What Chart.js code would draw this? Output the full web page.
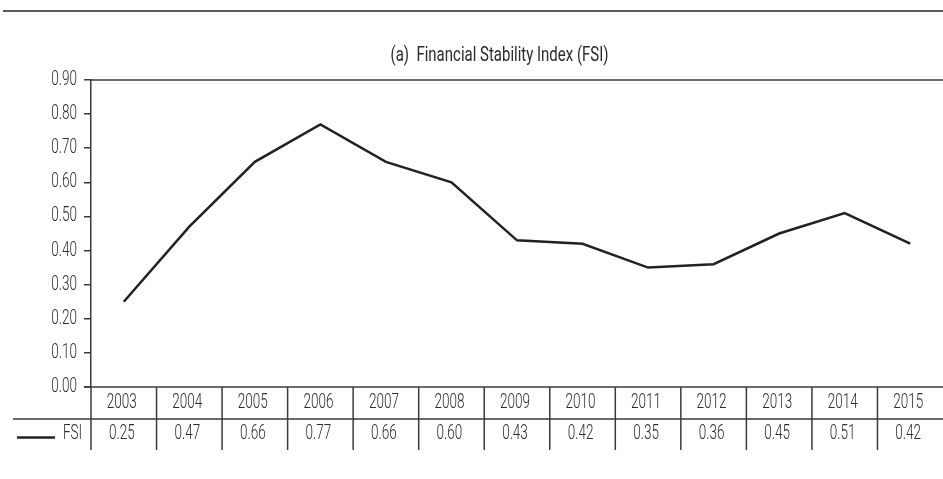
<!DOCTYPE html>
<html>
<head>
<meta charset="utf-8">
<script src="https://cdn.jsdelivr.net/npm/chart.js@4.4.1/dist/chart.umd.min.js"></script>
<style>
html,body{margin:0;padding:0;background:#fff;}
#wrap{width:943px;height:479px;}
</style>
</head>
<body>
<div id="wrap"><canvas id="c" width="943" height="479"></canvas></div>
<script>
const categories = ["2003","2004","2005","2006","2007","2008","2009","2010","2011","2012","2013","2014","2015"];
const fsiValues = [0.25,0.47,0.66,0.77,0.66,0.60,0.43,0.42,0.35,0.36,0.45,0.51,0.42];
const seriesName = "FSI";
const titleText = "(a)  Financial Stability Index (FSI)";
const yMin = 0, yMax = 0.9, yStep = 0.1;

const FONT = "Roboto,'Noto Sans',sans-serif";
const LABEL_FONT = "300 20px " + FONT;
const TITLE_FONT = "400 19.5px " + FONT;
const TEXT = "#2b2b2b";
const LINE = "#3a3a3a";

function drawScaledText(ctx, text, x, y, sx, align) {
  ctx.save();
  ctx.translate(x, y);
  ctx.scale(sx, 1);
  ctx.textAlign = align;
  ctx.fillText(text, 0, 0);
  ctx.restore();
}

const tablePlugin = {
  id: 'tablePlugin',
  afterDraw(chart) {
    const ctx = chart.ctx;
    const xs = chart.scales.x;
    const ys = chart.scales.y;
    const ca = chart.chartArea;
    const n = categories.length;
    const w = (ca.right - ca.left) / n;
    const row1Top = ca.bottom, row1Bot = ca.bottom + 32, row2Bot = ca.bottom + 63;
    ctx.save();
    ctx.font = LABEL_FONT;
    const sxLabel = 30 / ctx.measureText("2003").width;
    ctx.font = TITLE_FONT;
    const sxTitle = 218 / ctx.measureText(titleText).width;

    // top rule
    ctx.strokeStyle = "#5a5a5a"; ctx.lineWidth = 2;
    ctx.beginPath(); ctx.moveTo(3, 11); ctx.lineTo(chart.width, 11); ctx.stroke();
    // title
    ctx.fillStyle = TEXT; ctx.font = TITLE_FONT; ctx.textBaseline = "alphabetic";
    drawScaledText(ctx, titleText, 499.5, 61, sxTitle, "center");
    // plot top border
    ctx.strokeStyle = LINE; ctx.lineWidth = 1.5;
    ctx.beginPath(); ctx.moveTo(ca.left, ca.top); ctx.lineTo(ca.right, ca.top); ctx.stroke();
    // bottom axis line
    ctx.beginPath(); ctx.moveTo(ca.left - 7, ca.bottom); ctx.lineTo(ca.right, ca.bottom); ctx.stroke();
    // table horizontal line
    ctx.beginPath(); ctx.moveTo(13, row1Bot); ctx.lineTo(ca.right, row1Bot); ctx.stroke();
    // vertical separators
    for (let i = 0; i < n; i++) {
      const x = xs.getPixelForValue(i) - w / 2;
      ctx.beginPath(); ctx.moveTo(x, row1Top); ctx.lineTo(x, row2Bot); ctx.stroke();
    }
    // y tick labels
    ctx.fillStyle = TEXT; ctx.font = LABEL_FONT; ctx.textBaseline = "middle";
    for (let v = yMin; v <= yMax + 1e-9; v += yStep) {
      drawScaledText(ctx, v.toFixed(2), ca.left - 14, ys.getPixelForValue(v), sxLabel, "right");
    }
    // table texts
    for (let i = 0; i < n; i++) {
      const cx = xs.getPixelForValue(i) - 2;
      drawScaledText(ctx, categories[i], cx, (row1Top + row1Bot) / 2, sxLabel, "center");
      drawScaledText(ctx, fsiValues[i].toFixed(2), cx, (row1Bot + row2Bot) / 2 - 0.5, sxLabel, "center");
    }
    // legend
    const ly = (row1Bot + row2Bot) / 2 + 3;
    ctx.strokeStyle = "#222"; ctx.lineWidth = 2.5;
    ctx.beginPath(); ctx.moveTo(17, ly); ctx.lineTo(55, ly); ctx.stroke();
    drawScaledText(ctx, seriesName, 63, (row1Bot + row2Bot) / 2 - 0.5, sxLabel, "left");
    ctx.restore();
  }
};

new Chart(document.getElementById('c'), {
  type: 'line',
  data: {
    labels: categories,
    datasets: [{
      label: seriesName,
      data: fsiValues,
      borderColor: '#222',
      borderWidth: 2.5,
      pointRadius: 0,
      tension: 0,
      fill: false
    }]
  },
  options: {
    responsive: false,
    animation: false,
    devicePixelRatio: 1,
    layout: { padding: { top: 80, right: 0, bottom: 0, left: 0 } },
    plugins: { legend: { display: false }, title: { display: false }, tooltip: { enabled: false } },
    scales: {
      x: {
        type: 'category',
        offset: true,
        grid: { display: false, offset: true },
        border: { display: false },
        ticks: { display: false },
        afterFit(scale) { scale.height = 92; }
      },
      y: {
        min: yMin, max: yMax,
        grid: { display: true, drawOnChartArea: false, drawTicks: true, tickLength: 7, color: LINE, lineWidth: 1.5 },
        border: { display: true, color: LINE, width: 1.5 },
        ticks: {
          stepSize: yStep, padding: 7, color: 'rgba(0,0,0,0)',
          font: { family: FONT, size: 18 },
          callback: (v) => Number(v).toFixed(2)
        },
        afterFit(scale) { scale.width = 91; }
      }
    }
  },
  plugins: [tablePlugin]
});
</script>
</body>
</html>
